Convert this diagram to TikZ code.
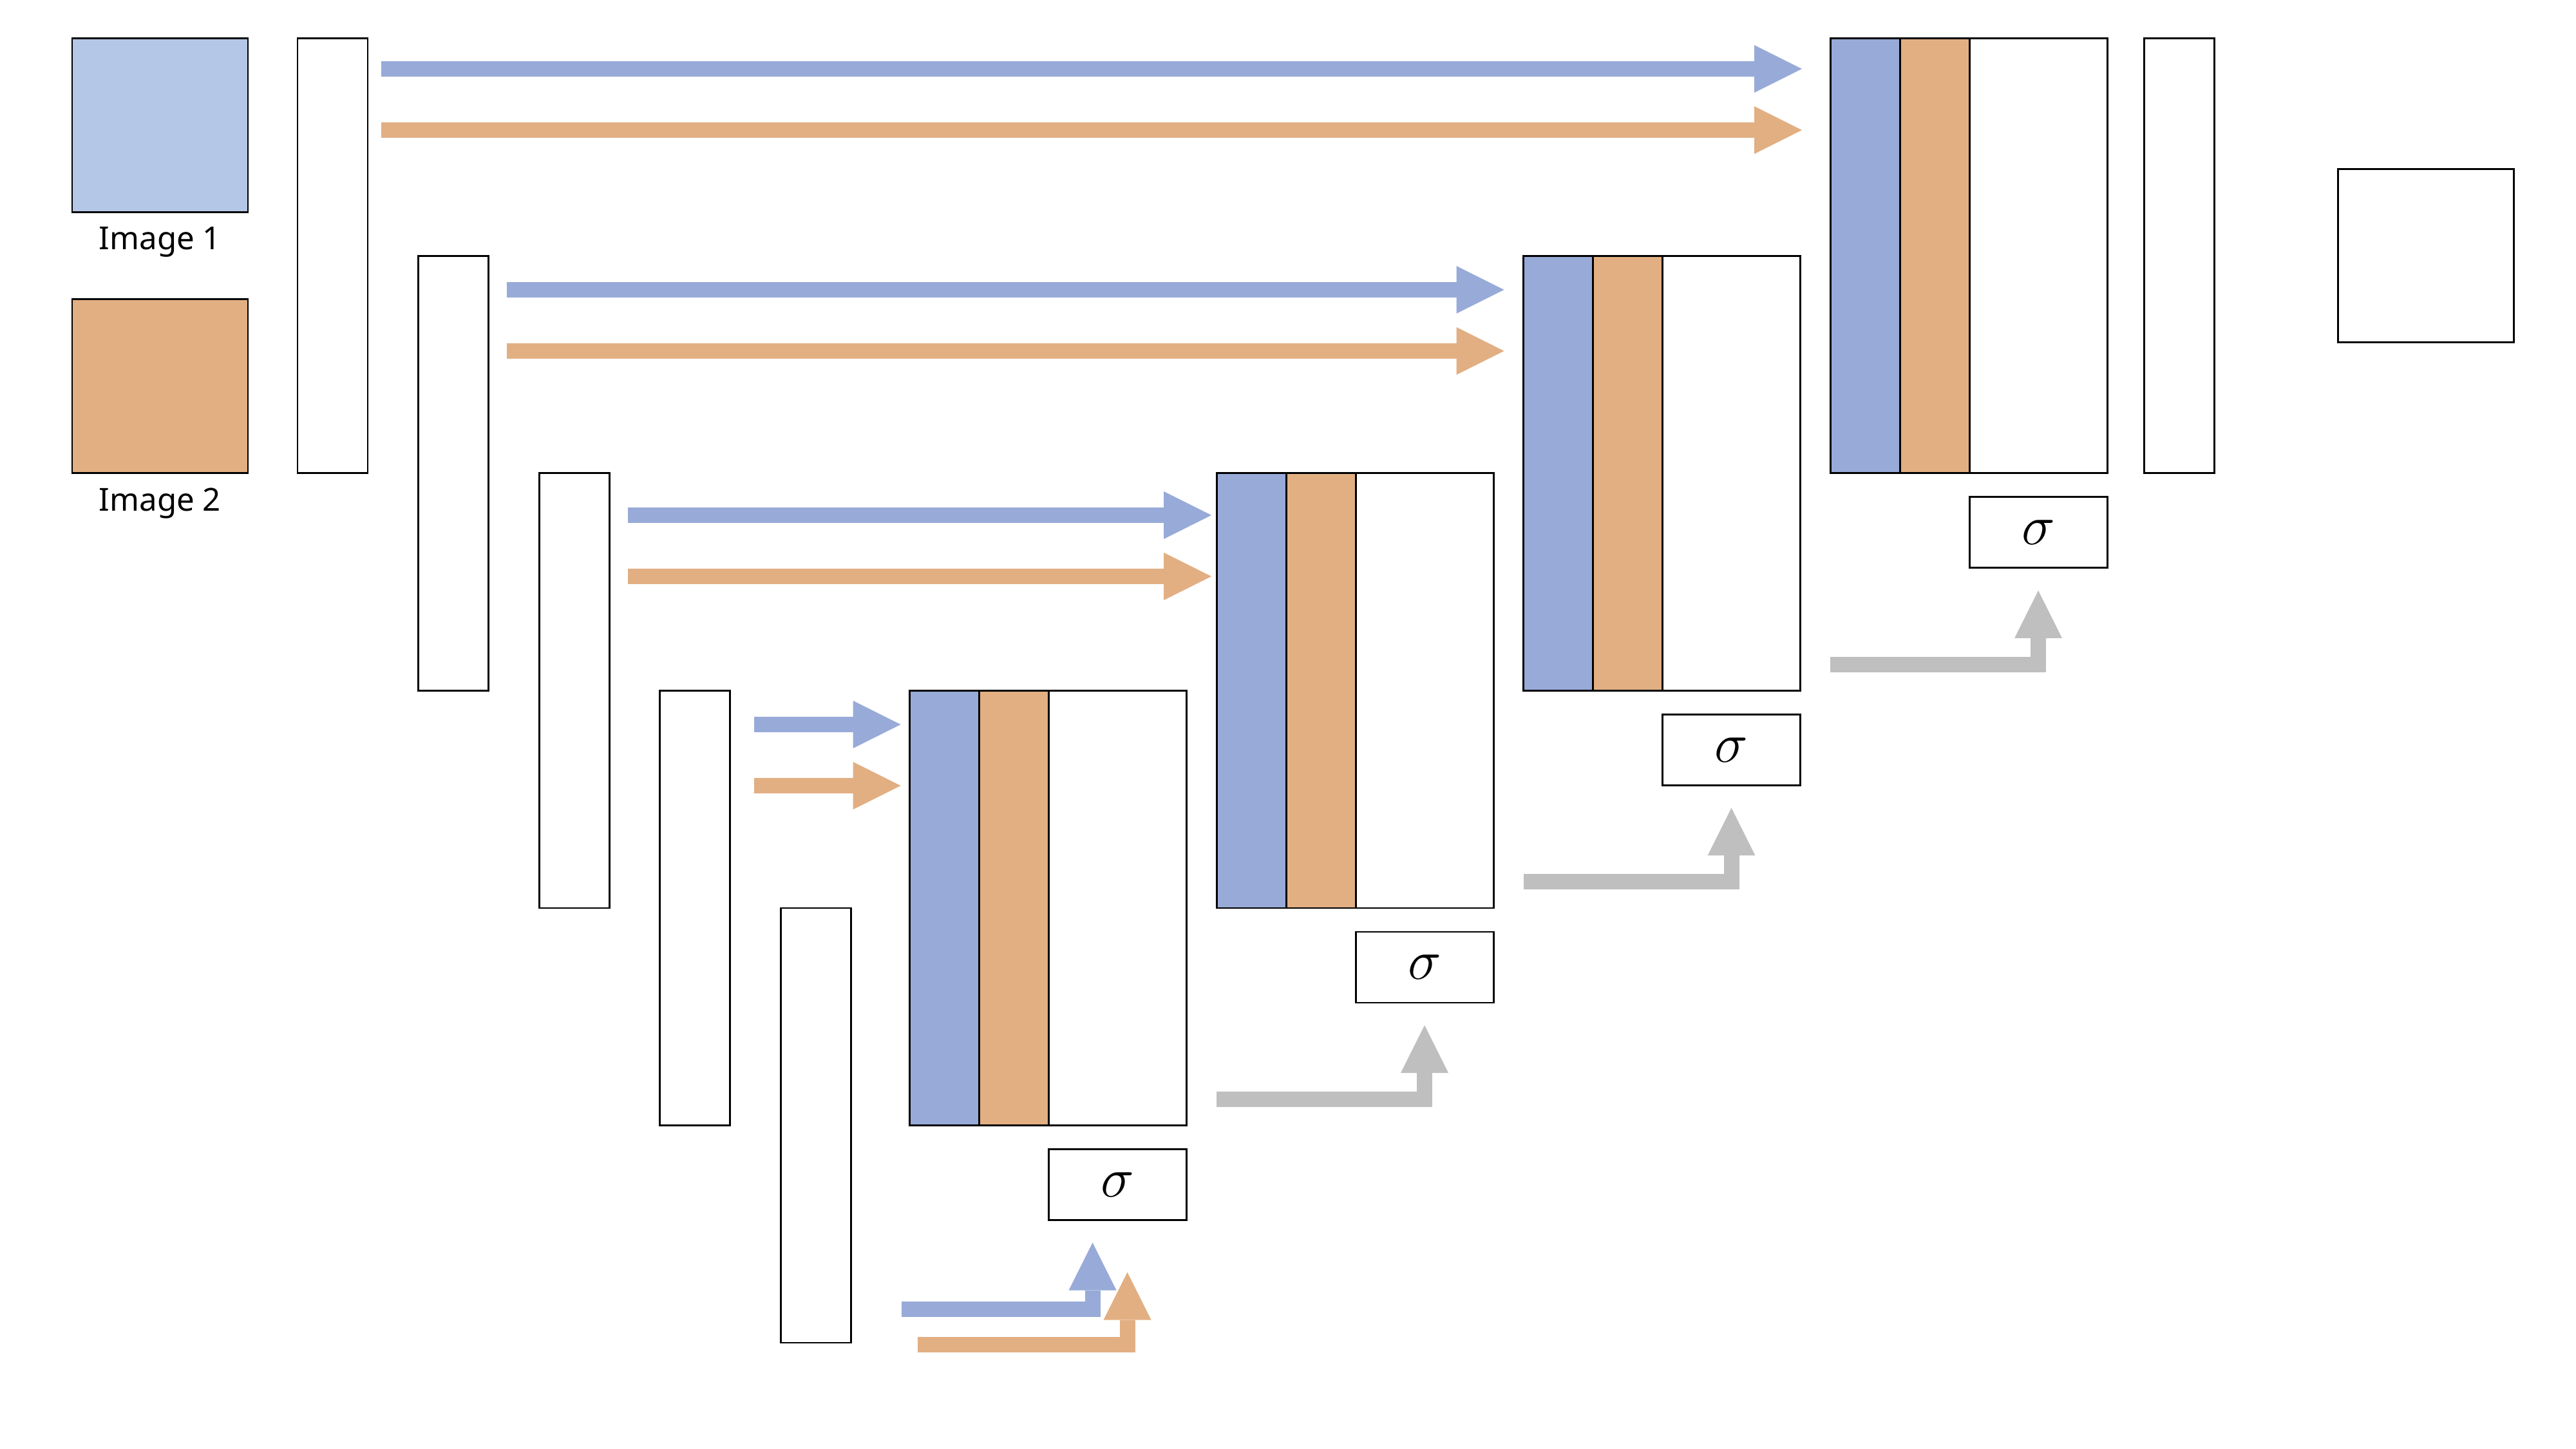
\documentclass[tikz,border=0pt]{standalone}
\usepackage{fontspec}
\setmainfont{Noto Sans}
\usetikzlibrary{positioning,arrows.meta}
\definecolor{blueA}{RGB}{152,170,216}
\definecolor{blueL}{RGB}{180,199,231}
\definecolor{orangeA}{RGB}{226,175,131}
\definecolor{grayA}{RGB}{191,191,191}
\tikzset{
  box/.style={draw, line width=0.85pt, inner sep=0, outer sep=0},
  col/.style={box, minimum width=1.09cm, minimum height=6.75cm, anchor=north west},
  slab/.style={box, minimum width=1.08cm, minimum height=6.75cm},
  sig/.style={box, minimum width=2.14cm, minimum height=1.1cm, font=\fontsize{24}{28}\selectfont},
  pic/.style={box, minimum width=2.73cm, minimum height=2.7cm},
  fat/.style={line width=2.4mm, -{Triangle[length=7.4mm,width=7.4mm,line width=0pt]}},
}
\begin{document}
\begin{tikzpicture}
\useasboundingbox (0,0) rectangle (40,-22.5);
% inputs
\node[pic, fill=blueL, anchor=north west] (img1) at (1.12,-0.6) {};
\node[below=2.2mm of img1, inner sep=0, font=\fontsize{14}{16}\selectfont] (lab1) {Image 1};
\node[pic, fill=orangeA, anchor=north west] (img2) at (1.12,-4.65) {};
\node[below=2.2mm of img2, inner sep=0, font=\fontsize{14}{16}\selectfont] (lab2) {Image 2};
% encoder
\foreach \k in {1,...,5}
{
    \node[col] (c\k) at ({4.62+1.875*(\k-1)}, {-0.6-3.375*(\k-1)}) {};
}
% decoder
\foreach \k in {1,...,4}
{
    \node[slab, fill=blueA, anchor=north west] (d\k) at ({28.42-4.765*(\k-1)}, {-0.6-3.375*(\k-1)}) {};
    \node[slab, fill=orangeA, right=0pt of d\k] (e\k) {};
    \node[slab, minimum width=2.14cm, right=0pt of e\k] (f\k) {};
    \node[sig, below=3.7mm of f\k] (s\k) {$\sigma$};
}
% output
\node[col] (c0) at (33.29,-0.6) {};
\node[pic, minimum height=2.69cm] (out) at (37.665,-3.975) {};
% skip connections
\foreach \k/\a/\b/\h in {1/0.21/0.44/0.47, 2/0.28/0.30/0.525, 3/0.29/0.08/0.65, 4/0.37/0.14/0.525}
{
    \draw[fat, blueA] ([xshift=\a cm, yshift=-\h cm]c\k.north east) -- ([xshift=-\b cm, yshift=-\h cm]d\k.north west);
    \draw[fat, orangeA] ([xshift=\a cm, yshift=-\h cm-0.95cm]c\k.north east) -- ([xshift=-\b cm, yshift=-\h cm-0.95cm]d\k.north west);
}
% into sigma
\foreach \k in {1,2,3}
{
    \path (s\k.south -| d\k.west) ++(0,-1.5) coordinate (g\k);
    \draw[fat, grayA] (g\k) -| ([yshift=-3.5mm]s\k.south);
}
\coordinate (p1) at ([xshift=7.9mm, yshift=5.2mm]c5.south east);
\coordinate (p2) at ([xshift=10.4mm, yshift=-0.3mm]c5.south east);
\draw[fat, blueA] (p1) -| ([xshift=-3.9mm, yshift=-3.5mm]s4.south);
\draw[fat, orangeA] (p2) -| ([xshift=1.5mm, yshift=-8.1mm]s4.south);
\end{tikzpicture}
\end{document}
